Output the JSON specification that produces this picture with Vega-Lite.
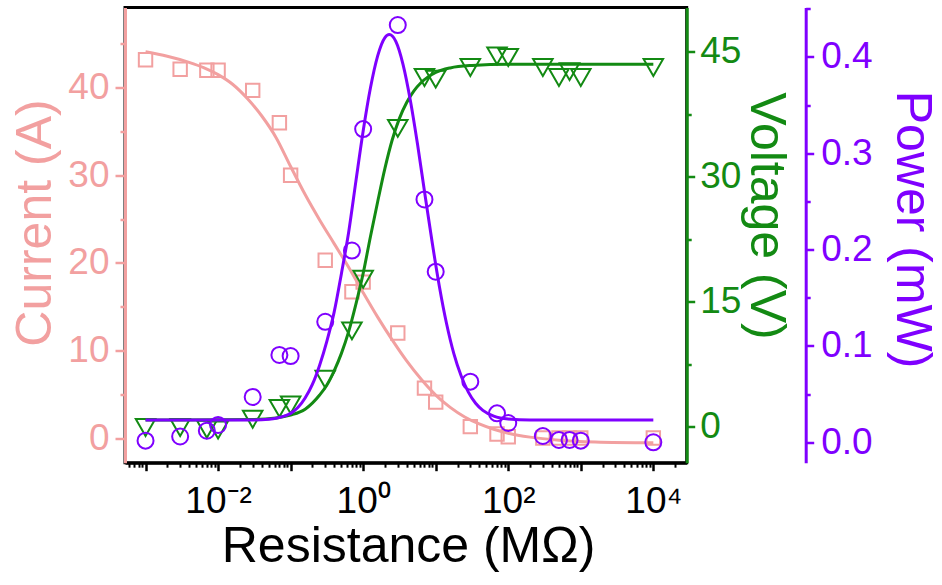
{
  "$schema": "https://vega.github.io/schema/vega-lite/v6.json",
  "width": 561.7,
  "height": 455.2,
  "autosize": {"type": "none"},
  "padding": {"left": 125, "top": 7.5, "right": 255.3, "bottom": 122.3},
  "background": "white",
  "config": {
    "view": {"stroke": "black", "strokeWidth": 3},
    "font": "Liberation Sans",
    "axis": {
      "grid": false,
      "labelFont": "Liberation Sans",
      "titleFont": "Liberation Sans",
      "labelFontSize": 37,
      "titleFontSize": 50,
      "titleFontWeight": "normal",
      "domainWidth": 3,
      "tickWidth": 2.5,
      "labelOverlap": false,
      "labelFlush": false
    }
  },
  "datasets": {
    "cur_pts": [
      {"R": 0.001, "I": 43.2}, {"R": 0.003, "I": 42.1}, {"R": 0.007, "I": 42.0}, {"R": 0.01, "I": 42.0},
      {"R": 0.03, "I": 39.7}, {"R": 0.07, "I": 36.0}, {"R": 0.1, "I": 30.0}, {"R": 0.3, "I": 20.3},
      {"R": 0.7, "I": 16.7}, {"R": 1, "I": 17.8}, {"R": 3, "I": 12.0}, {"R": 7, "I": 5.7},
      {"R": 10, "I": 4.1}, {"R": 30, "I": 1.3}, {"R": 70, "I": 0.46}, {"R": 100, "I": 0.15},
      {"R": 300, "I": 0.0}, {"R": 500, "I": 0.0}, {"R": 700, "I": 0.0}, {"R": 1000, "I": 0.0}, {"R": 10000, "I": 0.0}
    ],
    "cur_fit": [
      {"R": 0.001, "I": 44.1}, {"R": 0.0019953, "I": 43.6}, {"R": 0.0039811, "I": 42.9}, {"R": 0.0063096, "I": 42.3},
      {"R": 0.01, "I": 41.5}, {"R": 0.015849, "I": 40.4}, {"R": 0.025119, "I": 38.8}, {"R": 0.039811, "I": 36.8},
      {"R": 0.063096, "I": 34.3}, {"R": 0.1, "I": 31.0}, {"R": 0.15849, "I": 27.8}, {"R": 0.25119, "I": 24.9},
      {"R": 0.39811, "I": 22.2}, {"R": 0.63096, "I": 19.5}, {"R": 1, "I": 16.6}, {"R": 1.5849, "I": 13.8},
      {"R": 2.5119, "I": 11.2}, {"R": 3.9811, "I": 8.8}, {"R": 6.3096, "I": 6.7}, {"R": 10, "I": 4.9},
      {"R": 15.849, "I": 3.5}, {"R": 25.119, "I": 2.4}, {"R": 39.811, "I": 1.6}, {"R": 63.096, "I": 1.0},
      {"R": 100, "I": 0.55}, {"R": 199.53, "I": 0.1}, {"R": 501.19, "I": -0.25}, {"R": 1584.9, "I": -0.45}, {"R": 10000, "I": -0.55}
    ],
    "vol_pts": [
      {"R": 0.001, "V": -0.1}, {"R": 0.003, "V": -0.1}, {"R": 0.007, "V": -0.3}, {"R": 0.01, "V": -0.4},
      {"R": 0.03, "V": 0.9}, {"R": 0.07, "V": 2.2}, {"R": 0.1, "V": 2.6}, {"R": 0.3, "V": 5.7},
      {"R": 0.7, "V": 11.5}, {"R": 1, "V": 17.7}, {"R": 3, "V": 35.8}, {"R": 7, "V": 41.9},
      {"R": 10, "V": 41.7}, {"R": 30, "V": 43.1}, {"R": 70, "V": 44.5}, {"R": 100, "V": 44.3},
      {"R": 300, "V": 43.1}, {"R": 500, "V": 41.9}, {"R": 700, "V": 42.6}, {"R": 1000, "V": 41.9}, {"R": 10000, "V": 43.1}
    ],
    "vol_fit": [
      {"R": 0.001, "V": 0.8}, {"R": 0.031623, "V": 0.87}, {"R": 0.063096, "V": 1.05}, {"R": 0.1, "V": 1.4},
      {"R": 0.15849, "V": 2.1}, {"R": 0.25119, "V": 3.8}, {"R": 0.31623, "V": 5.0}, {"R": 0.39811, "V": 6.7},
      {"R": 0.50119, "V": 8.8}, {"R": 0.63096, "V": 11.4}, {"R": 0.79433, "V": 14.7}, {"R": 1, "V": 18.4},
      {"R": 1.2589, "V": 22.8}, {"R": 1.5849, "V": 27.0}, {"R": 1.9953, "V": 31.0}, {"R": 2.5119, "V": 34.4},
      {"R": 3.1623, "V": 37.0}, {"R": 3.9811, "V": 38.9}, {"R": 5.0119, "V": 40.3}, {"R": 6.3096, "V": 41.3},
      {"R": 10, "V": 42.5}, {"R": 15.849, "V": 43.05}, {"R": 31.623, "V": 43.35}, {"R": 100, "V": 43.5}, {"R": 10000, "V": 43.5}
    ],
    "pow_pts": [
      {"R": 0.001, "P": 0.0017}, {"R": 0.003, "P": 0.006}, {"R": 0.007, "P": 0.012}, {"R": 0.01, "P": 0.018},
      {"R": 0.03, "P": 0.047}, {"R": 0.07, "P": 0.0906}, {"R": 0.1, "P": 0.0895}, {"R": 0.3, "P": 0.125},
      {"R": 0.7, "P": 0.199}, {"R": 1, "P": 0.325}, {"R": 3, "P": 0.433}, {"R": 7, "P": 0.252},
      {"R": 10, "P": 0.177}, {"R": 30, "P": 0.0629}, {"R": 70, "P": 0.030}, {"R": 100, "P": 0.020},
      {"R": 300, "P": 0.0065}, {"R": 500, "P": 0.0024}, {"R": 700, "P": 0.0024}, {"R": 1000, "P": 0.0017}, {"R": 10000, "P": 0.0}
    ],
    "pow_fit": [
      {"R": 0.001, "P": 0.0231}, {"R": 0.031623, "P": 0.0232}, {"R": 0.050119, "P": 0.0240}, {"R": 0.063096, "P": 0.0250},
      {"R": 0.079433, "P": 0.0268}, {"R": 0.1, "P": 0.030}, {"R": 0.12589, "P": 0.036}, {"R": 0.15849, "P": 0.046},
      {"R": 0.19953, "P": 0.060}, {"R": 0.25119, "P": 0.080}, {"R": 0.31623, "P": 0.105}, {"R": 0.39811, "P": 0.135},
      {"R": 0.50119, "P": 0.175}, {"R": 0.63096, "P": 0.218}, {"R": 0.79433, "P": 0.271}, {"R": 1, "P": 0.323},
      {"R": 1.2589, "P": 0.3676}, {"R": 1.5849, "P": 0.401}, {"R": 1.9953, "P": 0.420}, {"R": 2.2909, "P": 0.4231},
      {"R": 2.8184, "P": 0.416}, {"R": 3.5481, "P": 0.392}, {"R": 4.4668, "P": 0.355}, {"R": 5.6234, "P": 0.309},
      {"R": 7.0795, "P": 0.258}, {"R": 8.9125, "P": 0.208}, {"R": 11.22, "P": 0.162}, {"R": 14.125, "P": 0.123},
      {"R": 17.783, "P": 0.092}, {"R": 22.387, "P": 0.069}, {"R": 28.184, "P": 0.052}, {"R": 35.481, "P": 0.0405},
      {"R": 44.668, "P": 0.0331}, {"R": 63.096, "P": 0.0271}, {"R": 100, "P": 0.0241}, {"R": 199.53, "P": 0.0232}, {"R": 10000, "P": 0.0231}
    ]
  },
  "resolve": {"scale": {"y": "independent"}, "axis": {"x": "independent"}},
  "layer": [
    {
      "resolve": {"axis": {"y": "independent", "x": "independent"}},
      "layer": [
        {
          "data": {"name": "cur_fit"},
          "mark": {"type": "line", "color": "#F2A0A0", "strokeWidth": 3, "interpolate": "monotone"},
          "encoding": {
            "x": {
              "field": "R", "type": "quantitative",
              "scale": {"type": "log", "domain": [0.000521, 28840], "nice": false},
              "axis": {
                "orient": "bottom",
                "values": [0.001, 0.01, 0.1, 1, 10, 100, 1000, 10000],
                "labelExpr": "round(log(datum.value)/LN10) == -2 ? '10⁻²' : round(log(datum.value)/LN10) == 0 ? '10⁰' : round(log(datum.value)/LN10) == 2 ? '10²' : round(log(datum.value)/LN10) == 4 ? '10⁴' : ''",
                "tickSize": 8, "tickWidth": 2.5, "tickColor": "black",
                "domainColor": "black", "domainWidth": 3,
                "labelColor": "black", "labelPadding": 13,
                "title": "Resistance (MΩ)", "titleColor": "black", "titlePadding": 2, "titleX": 283
              }
            },
            "y": {
              "field": "I", "type": "quantitative",
              "scale": {"domain": [-2.82, 49.16], "nice": false, "zero": false},
              "axis": {
                "orient": "left", "values": [5, 15, 25, 35, 45],
                "tickSize": 5, "tickWidth": 2.5, "tickColor": "#F2A0A0",
                "labels": false, "domain": false, "title": null
              }
            }
          }
        },
        {
          "data": {"name": "cur_pts"},
          "mark": {"type": "point", "shape": "square", "size": 180, "filled": false, "color": "#F2A0A0", "strokeWidth": 2, "opacity": 1},
          "encoding": {
            "x": {"field": "R", "type": "quantitative", "scale": {"type": "log", "domain": [0.000521, 28840], "nice": false}, "axis": null},
            "y": {
              "field": "I", "type": "quantitative",
              "scale": {"domain": [-2.82, 49.16], "nice": false, "zero": false},
              "axis": {
                "orient": "left", "values": [0, 10, 20, 30, 40],
                "tickSize": 10, "tickWidth": 2.5, "tickColor": "#F2A0A0",
                "domainColor": "#F2A0A0", "domainWidth": 3,
                "labelColor": "#F2A0A0", "labelPadding": 6,
                "title": "Current (A)", "titleColor": "#F2A0A0", "titlePadding": 7, "titleY": 215
              }
            }
          }
        }
      ]
    },
    {
      "resolve": {"axis": {"y": "independent", "x": "independent"}},
      "layer": [
        {
          "data": {"name": "vol_fit"},
          "mark": {"type": "line", "color": "#138A13", "strokeWidth": 3, "interpolate": "monotone"},
          "encoding": {
            "x": {
              "field": "R", "type": "quantitative",
              "scale": {"type": "log", "domain": [0.000521, 28840], "nice": false},
              "axis": {
                "orient": "bottom",
                "values": [0.0006, 0.0007, 0.0008, 0.0009, 0.002, 0.003, 0.004, 0.005, 0.006, 0.007, 0.008, 0.009, 0.02, 0.03, 0.04, 0.05, 0.06, 0.07, 0.08, 0.09, 0.2, 0.3, 0.4, 0.5, 0.6, 0.7, 0.8, 0.9, 2, 3, 4, 5, 6, 7, 8, 9, 20, 30, 40, 50, 60, 70, 80, 90, 200, 300, 400, 500, 600, 700, 800, 900, 2000, 3000, 4000, 5000, 6000, 7000, 8000, 9000, 20000],
                "tickSize": 4.5, "tickWidth": 2, "tickColor": "black",
                "labels": false, "domain": false, "title": null
              }
            },
            "y": {
              "field": "V", "type": "quantitative",
              "scale": {"domain": [-4.32, 50.3], "nice": false, "zero": false},
              "axis": {
                "orient": "right", "values": [7.5, 22.5, 37.5],
                "tickSize": 4.5, "tickWidth": 2.5, "tickColor": "#138A13",
                "labels": false, "domain": false, "title": null
              }
            }
          }
        },
        {
          "data": {"name": "vol_pts"},
          "mark": {"type": "point", "shape": "triangle-down", "size": 380, "filled": false, "color": "#138A13", "strokeWidth": 2, "opacity": 1},
          "encoding": {
            "x": {"field": "R", "type": "quantitative", "scale": {"type": "log", "domain": [0.000521, 28840], "nice": false}, "axis": null},
            "y": {
              "field": "V", "type": "quantitative",
              "scale": {"domain": [-4.32, 50.3], "nice": false, "zero": false},
              "axis": {
                "orient": "right", "values": [0, 15, 30, 45],
                "tickSize": 8, "tickWidth": 2.5, "tickColor": "#138A13",
                "domainColor": "#138A13", "domainWidth": 3,
                "labelColor": "#138A13", "labelPadding": 5,
                "title": "Voltage (V)", "titleColor": "#138A13", "titlePadding": 0, "titleY": 208
              }
            }
          }
        }
      ]
    },
    {
      "resolve": {"axis": {"y": "independent", "x": "independent"}},
      "layer": [
        {
          "data": {"name": "pow_fit"},
          "mark": {"type": "line", "color": "#7F00FF", "strokeWidth": 3, "interpolate": "monotone"},
          "encoding": {
            "x": {"field": "R", "type": "quantitative", "scale": {"type": "log", "domain": [0.000521, 28840], "nice": false}, "axis": null},
            "y": {
              "field": "P", "type": "quantitative",
              "scale": {"domain": [-0.0212, 0.4512], "nice": false, "zero": false},
              "axis": {
                "orient": "right", "offset": 119, "values": [0.05, 0.15, 0.25, 0.35, 0.45],
                "tickSize": 4.5, "tickWidth": 2.5, "tickColor": "#7F00FF",
                "labels": false, "domain": false, "title": null
              }
            }
          }
        },
        {
          "data": {"name": "pow_pts"},
          "mark": {"type": "point", "shape": "circle", "size": 256, "filled": false, "color": "#7F00FF", "strokeWidth": 2, "opacity": 1},
          "encoding": {
            "x": {"field": "R", "type": "quantitative", "scale": {"type": "log", "domain": [0.000521, 28840], "nice": false}, "axis": null},
            "y": {
              "field": "P", "type": "quantitative",
              "scale": {"domain": [-0.0212, 0.4512], "nice": false, "zero": false},
              "axis": {
                "orient": "right", "offset": 119, "values": [0, 0.1, 0.2, 0.3, 0.4], "format": ".1f",
                "tickSize": 8, "tickWidth": 2.5, "tickColor": "#7F00FF",
                "domainColor": "#7F00FF", "domainWidth": 3,
                "labelColor": "#7F00FF", "labelPadding": 7,
                "title": "Power (mW)", "titleColor": "#7F00FF", "titlePadding": 14, "titleY": 221.5
              }
            }
          }
        }
      ]
    }
  ]
}
